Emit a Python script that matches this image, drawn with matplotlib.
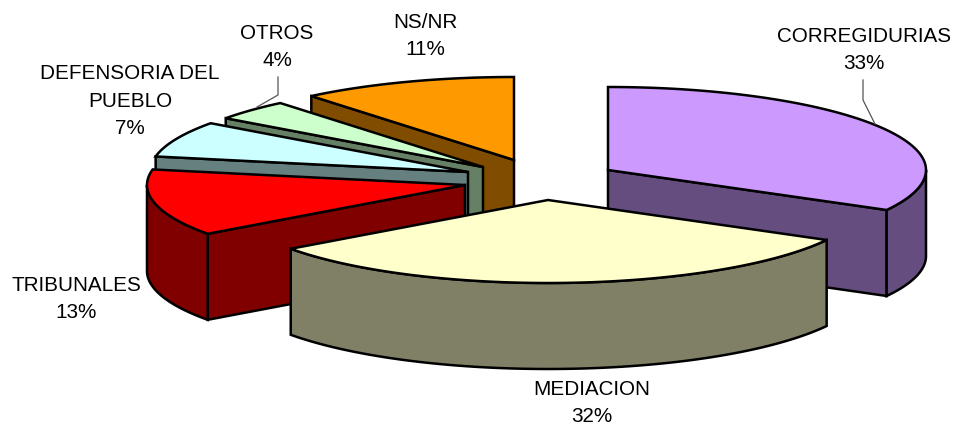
import numpy as np
import matplotlib
matplotlib.use("Agg")
import matplotlib.pyplot as plt
from matplotlib.patches import Polygon

# Survey shares, clockwise from twelve o'clock
categories = ["CORREGIDURIAS", "MEDIACION", "TRIBUNALES",
              "DEFENSORIA DEL\nPUEBLO", "OTROS", "NS/NR"]
shares = [33, 32, 13, 7, 4, 11]

top_colors = ["#CC99FF", "#FFFFCC", "#FF0000", "#CCFFFF", "#CCFFCC", "#FF9900"]
side_colors = ["#664D80", "#808066", "#800000", "#668080", "#668066", "#804D00"]

# Exploded apex of each slice, in figure pixels
apexes = [(608, 170), (548, 200), (465, 185), (468, 172), (483, 167), (514, 160)]
label_pos = [(864, 50), (592, 403), (76, 299), (130, 101), (277, 47), (425, 36)]

RX, RY, DEPTH = 318, 83, 86
EDGE = dict(edgecolor="black", linewidth=1.8, joinstyle="miter")

fig = plt.figure(figsize=(9.55, 4.25), dpi=100)
ax = fig.add_axes([0, 0, 1, 1])
ax.set_xlim(0, 955)
ax.set_ylim(425, 0)
ax.axis("off")


def rim(apex, a0, a1, n=120, drop=0.0):
    """Points on the elliptical rim between two clockwise angles (degrees)."""
    t = np.radians(np.linspace(a0, a1, n))
    return np.column_stack([apex[0] + RX * np.sin(t),
                            apex[1] - RY * np.cos(t) + drop])


def radial_wall(apex, angle, color, z):
    edge = rim(apex, angle, angle, 1)[0]
    pts = [apex, edge, (edge[0], edge[1] + DEPTH), (apex[0], apex[1] + DEPTH)]
    ax.add_patch(Polygon(pts, closed=True, facecolor=color, zorder=z, **EDGE))


def draw_slice(apex, a0, a1, top, side, z):
    # A cut face shows only when it turns towards the viewer
    if 180 < a0 < 360:
        radial_wall(apex, a0, side, z)
    if 0 < a1 < 180:
        radial_wall(apex, a1, side, z)
    # Only the front half of the rim shows an outer wall
    lo, hi = max(a0, 90), min(a1, 270)
    if lo < hi:
        upper = rim(apex, lo, hi)
        lower = rim(apex, lo, hi, drop=DEPTH)[::-1]
        ax.add_patch(Polygon(np.vstack([upper, lower]), closed=True,
                             facecolor=side, zorder=z + 0.1, **EDGE))
    face = np.vstack([[apex], rim(apex, a0, a1)])
    ax.add_patch(Polygon(face, closed=True, facecolor=top, zorder=z + 0.2, **EDGE))


edges = np.cumsum([0] + shares) / sum(shares) * 360
# Paint from the back of the pie towards the viewer
paint_order = [5, 4, 3, 2, 0, 1]
for z, i in enumerate(paint_order, start=2):
    draw_slice(apexes[i], edges[i], edges[i + 1], top_colors[i], side_colors[i], z)

# Leader lines for the two labels that sit away from their slices
ax.plot([278, 278, 257], [77, 95, 107], color="#555555", lw=0.9, zorder=12)
ax.plot([863, 863, 875], [80, 100, 124], color="#555555", lw=0.9, zorder=12)

for name, share, (x, y) in zip(categories, shares, label_pos):
    ax.text(x, y, f"{name}\n{share}%", ha="center", va="center",
            family="Liberation Sans", fontsize=14.9, color="black",
            linespacing=1.55, zorder=13)

fig.savefig("out.png", dpi=100, facecolor="white")
